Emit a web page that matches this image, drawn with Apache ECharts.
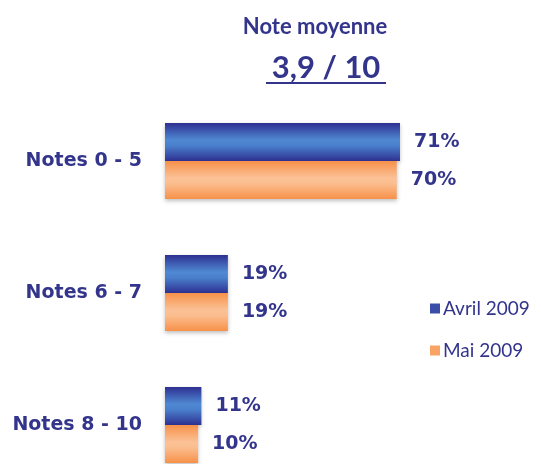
<!DOCTYPE html>
<html>
<head>
<meta charset="utf-8">
<script src="https://cdn.jsdelivr.net/npm/echarts@6/dist/echarts.min.js"></script>
<style>
  html, body { margin: 0; padding: 0; background: #fff; }
  #chart { width: 541px; height: 464px; }
</style>
</head>
<body>
<div id="chart"></div>
<script>
const categories = ['Notes 0 - 5', 'Notes 6 - 7', 'Notes 8 - 10'];
const avril = [71, 19, 11];
const mai = [70, 19, 10];
const seriesNames = ['Avril 2009', 'Mai 2009'];
const titleText = 'Note moyenne';
const scoreText = '3,9 / 10';

const textBlue = '#33358c';

let blueFill = new echarts.graphic.LinearGradient(0, 0, 0, 1, [
  { offset: 0, color: '#2e3192' },
  { offset: 0.45, color: '#5089d2' },
  { offset: 0.6, color: '#4a7fcb' },
  { offset: 1, color: '#2e3192' }
]);
let orangeFill = new echarts.graphic.LinearGradient(0, 0, 0, 1, [
  { offset: 0, color: '#f7914a' },
  { offset: 0.45, color: '#fbc196' },
  { offset: 0.6, color: '#fbbd8d' },
  { offset: 1, color: '#f7914a' }
]);

const labelStyle = {
  show: true,
  position: 'right',
  distance: 14,
  formatter: '{c}%',
  color: textBlue,
  fontSize: 19,
  fontWeight: 'bold',
  fontFamily: 'DejaVu Sans'
};

let chart = echarts.init(document.getElementById('chart'));
chart.setOption({
  animation: false,
  title: [
    {
      text: titleText,
      left: 310,
      textAlign: 'center',
      top: 11,
      textStyle: { color: textBlue, fontSize: 22, fontWeight: 'bold', fontFamily: 'Lato' }
    },
    {
      text: scoreText,
      left: 321,
      textAlign: 'center',
      top: 47,
      textStyle: { color: textBlue, fontSize: 31, fontWeight: 'bold', fontFamily: 'Lato' }
    }
  ],
  graphic: [
    {
      type: 'line',
      shape: { x1: 266, y1: 83, x2: 386, y2: 83 },
      style: { stroke: textBlue, lineWidth: 2 }
    }
  ],
  legend: {
    orient: 'vertical',
    left: 425,
    top: 294,
    itemGap: 23,
    itemWidth: 10,
    itemHeight: 10,
    icon: 'rect',
    data: [
      { name: seriesNames[0], itemStyle: { color: '#3a4ea8' } },
      { name: seriesNames[1], itemStyle: { color: '#f9a465' } }
    ],
    textStyle: { color: textBlue, fontSize: 19, fontFamily: 'Lato', padding: [0, 0, 0, -2] }
  },
  grid: { left: 165, top: 95, width: 331, height: 396, outerBoundsMode: 'none' },
  xAxis: { type: 'value', min: 0, max: 100, show: false },
  yAxis: {
    type: 'category',
    data: categories,
    inverse: true,
    axisLine: { show: false },
    axisTick: { show: false },
    axisLabel: {
      margin: 23,
      color: textBlue,
      fontSize: 19,
      fontWeight: 'bold',
      fontFamily: 'DejaVu Sans'
    }
  },
  series: [
    {
      name: seriesNames[0],
      type: 'bar',
      data: avril,
      barWidth: 38,
      barGap: '0%',
      itemStyle: { color: blueFill, shadowColor: 'rgba(0,0,0,0.25)', shadowBlur: 4, shadowOffsetY: 2 },
      label: labelStyle
    },
    {
      name: seriesNames[1],
      type: 'bar',
      data: mai,
      barWidth: 38,
      barGap: '0%',
      itemStyle: { color: orangeFill, shadowColor: 'rgba(0,0,0,0.25)', shadowBlur: 4, shadowOffsetY: 2 },
      label: labelStyle
    }
  ]
});
</script>
</body>
</html>
